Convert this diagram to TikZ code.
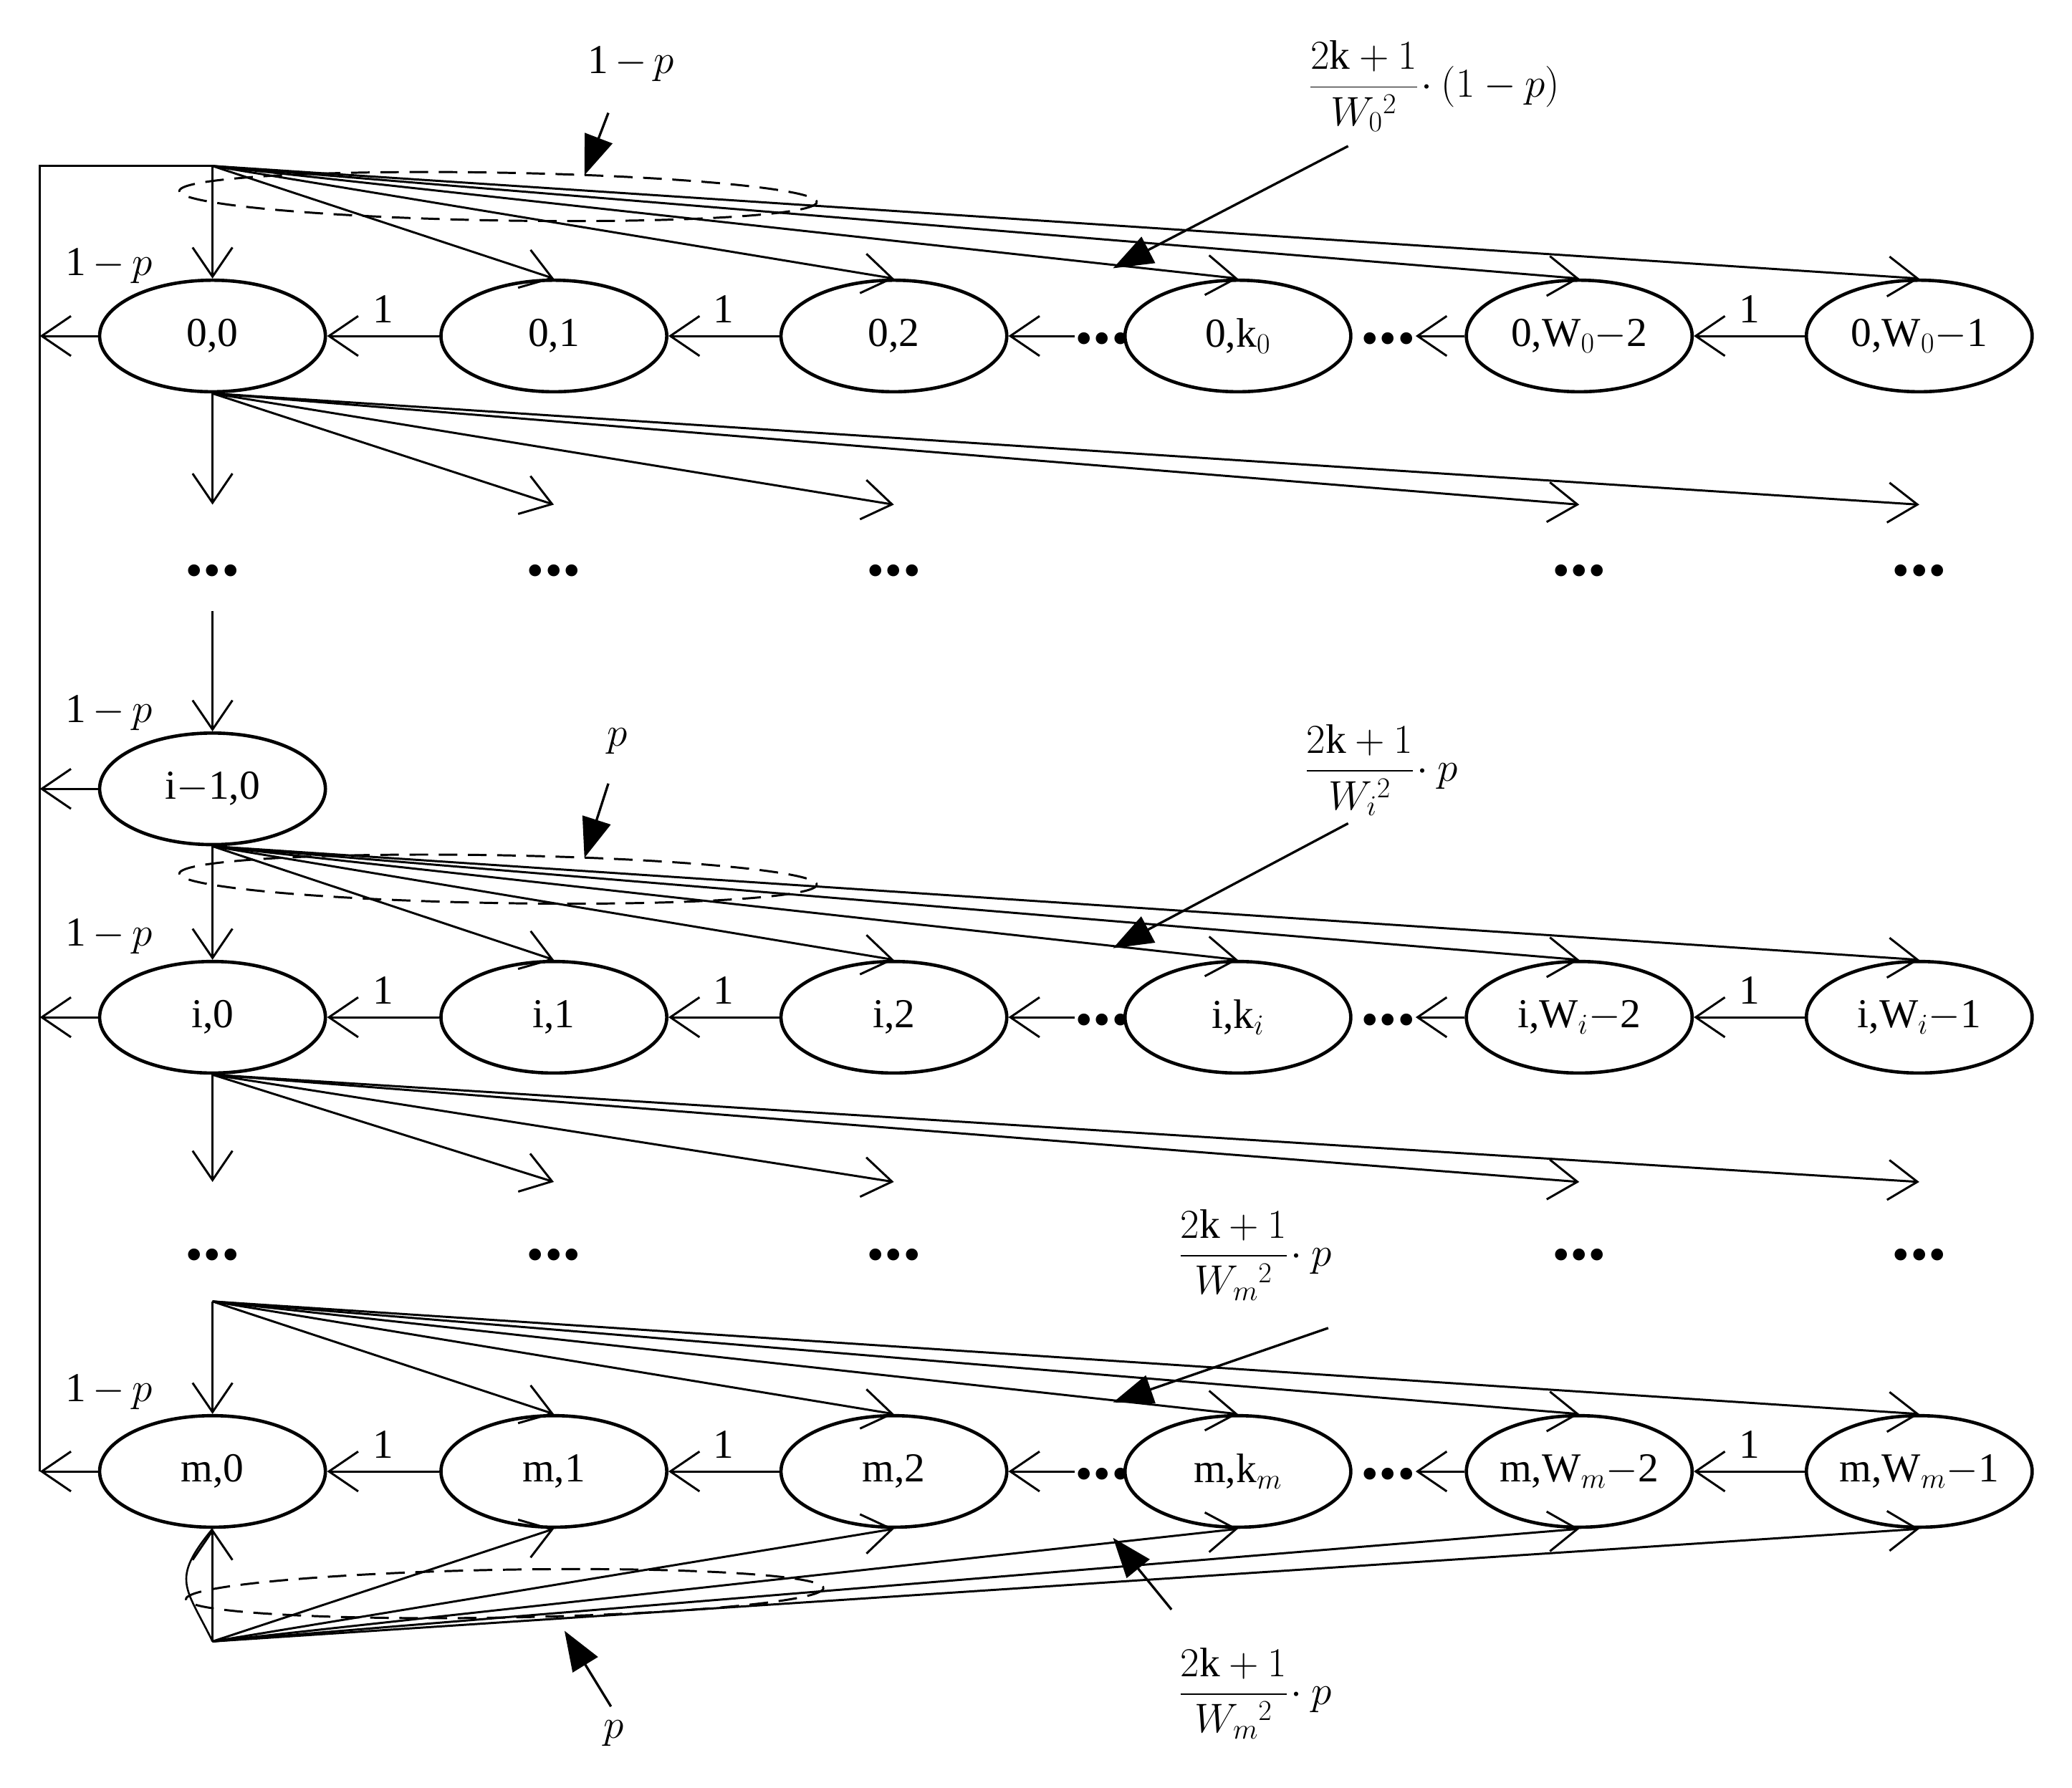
\RequirePackage{fix-cm}
\documentclass[tikz,border=0pt]{standalone}
\usepackage{amsmath}
\usepackage{fontspec}
\setmainfont{Liberation Serif}
\usetikzlibrary{shapes.geometric,arrows.meta}
\begin{document}
\begin{tikzpicture}[x=1pt,y=-1pt,
  st/.style={ellipse,draw,line width=2.5pt,minimum width=170pt,minimum height=84pt,inner sep=0pt,font=\fontsize{31}{34}\selectfont},
  ar/.style={line width=1.6pt,-{Straight Barb[length=22pt,width=30pt,line width=1.6pt]}},
  big/.style={line width=1.8pt,-{Triangle[length=30pt,width=22pt]}},
  lab/.style={font=\fontsize{31}{34}\selectfont,inner sep=1pt},
  dts/.style={font=\fontsize{55}{55}\selectfont\bfseries,inner sep=0pt},
  dsh/.style={dashed,line width=1.6pt,dash pattern=on 14pt off 8pt}]
\useasboundingbox (0,0) rectangle (1560,1346);
% row nodes
\foreach \r/\y/\s/\k in {a/253/0/0, i/766/i/i, m/1108/m/m}{
  \node[st] (\r0) at (160,\y) {\s,0};
  \node[st] (\r1) at (417,\y) {\s,1};
  \node[st] (\r2) at (673,\y) {\s,2};
  \node[st] (\r3) at (932,\y) {\s,k$_{\k}$};
  \node[st] (\r4) at (1189,\y) {\s,W$_{\k}$$-$2};
  \node[st] (\r5) at (1445,\y) {\s,W$_{\k}$$-$1};
  \node[dts] (\r d1) at (830,\y+2) {...};
  \node[dts] (\r d2) at (1045,\y+2) {...};
  \draw[ar] (\r1.west) -- (\r0.east) node[lab,midway,above=8pt] {1};
  \draw[ar] (\r2.west) -- (\r1.east) node[lab,midway,above=8pt] {1};
  \draw[ar] (\r5.west) -- (\r4.east) node[lab,midway,above=8pt] {1};
  \draw[ar] (\r d1.west|-\r2) -- (\r2.east);
  \draw[ar] (\r4.west) -- (\r d2.east|-\r4);
}
\node[st] (h0) at (160,594) {i$-$1,0};
% left bar
\coordinate (tl) at (30,125);
\coordinate (bl) at (30,1108);
\coordinate (fa) at (160,125);
\draw[line width=1.6pt] (bl) -- (tl) -- (fa);
\foreach \n/\y in {a0/253,h0/594,i0/766,m0/1108}{
  \coordinate (L\n) at (30,\y);
  \draw[ar] (\n.west) -- (L\n);
}
\foreach \y in {200,537,705,1048}{\node[lab] at (82,\y) {1$\,-\,p$};}
% fans into rows
\foreach \c in {0,...,5}{\draw[ar] (fa) -- (a\c.north);}
\foreach \c in {0,...,5}{\draw[ar] (h0.south) -- (i\c.north);}
\coordinate (fm) at (160,980);
\foreach \c in {0,...,5}{\draw[ar] (fm) -- (m\c.north);}
% fans out of rows
\foreach \r/\y/\yd in {a/380/430, i/890/945}{
  \foreach \x/\n in {160/0,417/1,673/2,1189/4,1445/5}{
    \coordinate (\r e\n) at (\x,\y);
    \draw[ar] (\r0.south) -- (\r e\n);
    \node[dts] (\r t\n) at (\x,\yd) {...};
  }
}
\coordinate (hs) at (160,460);
\draw[ar] (hs) -- (h0.north);
% bottom fan
\coordinate (fb) at (160,1236);
\foreach \c in {0,...,5}{\draw[ar] (fb) -- (m\c.south);}
\draw[line width=1.4pt] (fb) .. controls (140,1195) and (128,1190) .. (m0.south);
% dashed ellipses
\draw[dsh,rotate around={-1:(375,148)}] (375,148) ellipse (240 and 18);
\draw[dsh,rotate around={-1:(375,662)}] (375,662) ellipse (240 and 18);
\draw[dsh,rotate around={1:(380,1200)}] (380,1200) ellipse (240 and 18);
% annotations
\node[lab] (p1) at (475,48) {1$\,-\,p$};
\coordinate (p1e) at (440,132);
\draw[big] (458,85) -- (p1e);
\node[lab] (f1) at (1080,65) {$\dfrac{2\mathrm{k}+1}{W_{0}{}^{2}}\!\cdot(1-p)$};
\coordinate (f1e) at (838,202);
\draw[big] (1015,110) -- (f1e);
\node[lab] (p2) at (465,558) {$p$};
\coordinate (p2e) at (440,646);
\draw[big] (458,590) -- (p2e);
\node[lab] (f2) at (1040,580) {$\dfrac{2\mathrm{k}+1}{W_{i}{}^{2}}\!\cdot p$};
\coordinate (f2e) at (838,714);
\draw[big] (1015,620) -- (f2e);
\node[lab] (f3) at (945,945) {$\dfrac{2\mathrm{k}+1}{W_{m}{}^{2}}\!\cdot p$};
\coordinate (f3e) at (838,1056);
\draw[big] (1000,1000) -- (f3e);
\node[lab] (f4) at (945,1275) {$\dfrac{2\mathrm{k}+1}{W_{m}{}^{2}}\!\cdot p$};
\coordinate (f4e) at (838,1158);
\draw[big] (882,1212) -- (f4e);
\node[lab] (p3) at (462,1305) {$p$};
\coordinate (p3e) at (425,1228);
\draw[big] (460,1285) -- (p3e);
\end{tikzpicture}
\end{document}
